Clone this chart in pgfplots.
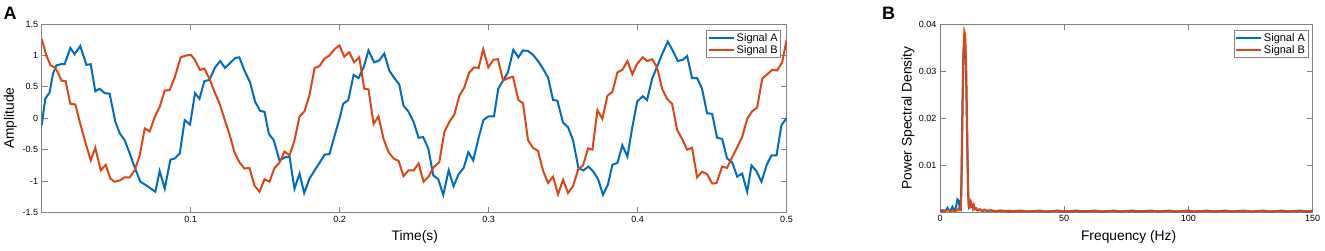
\documentclass[border=0pt]{standalone}
\usepackage{fontspec}
\setmainfont{Liberation Sans}
\usepackage{pgfplots}
\usepackage{pgfplotstable}
\pgfplotsset{compat=1.18}
\definecolor{mblue}{RGB}{0,108,190}
\definecolor{mred}{RGB}{218,70,22}
\definecolor{axgray}{RGB}{128,128,128}

\pgfplotstableread{
t v
0.0000 -0.11
0.0024 0.31
0.0053 0.41
0.0076 0.71
0.0098 0.84
0.0127 0.86
0.0154 0.86
0.0192 1.12
0.0221 1.02
0.0259 1.15
0.0300 0.85
0.0329 0.86
0.0360 0.43
0.0389 0.47
0.0423 0.40
0.0456 0.39
0.0495 -0.06
0.0524 -0.24
0.0557 -0.35
0.0591 -0.56
0.0624 -0.78
0.0662 -1.01
0.0703 -1.07
0.0763 -1.17
0.0792 -0.84
0.0826 -1.12
0.0864 -0.66
0.0893 -0.64
0.0927 -0.56
0.0960 -0.03
0.0996 -0.10
0.1029 0.40
0.1059 0.31
0.1092 0.59
0.1126 0.61
0.1164 0.81
0.1198 0.91
0.1231 0.80
0.1265 0.88
0.1300 0.96
0.1327 0.97
0.1361 0.76
0.1399 0.57
0.1433 0.26
0.1466 0.12
0.1496 0.10
0.1525 -0.25
0.1558 -0.35
0.1596 -0.67
0.1635 -0.62
0.1664 -0.62
0.1697 -1.12
0.1731 -0.88
0.1762 -1.19
0.1798 -0.96
0.1832 -0.83
0.1865 -0.71
0.1899 -0.58
0.1932 -0.57
0.1966 -0.28
0.2000 0.00
0.2024 0.23
0.2058 0.29
0.2094 0.69
0.2127 0.64
0.2161 0.81
0.2194 1.08
0.2232 0.89
0.2266 0.92
0.2300 1.03
0.2333 0.76
0.2367 0.64
0.2400 0.54
0.2429 0.20
0.2461 0.11
0.2497 -0.06
0.2530 -0.31
0.2561 -0.30
0.2595 -0.48
0.2629 -0.91
0.2662 -0.97
0.2696 -1.22
0.2732 -0.83
0.2765 -1.08
0.2799 -0.89
0.2833 -0.79
0.2864 -0.54
0.2897 -0.67
0.2931 -0.33
0.2965 -0.03
0.2999 0.03
0.3036 0.03
0.3065 0.47
0.3097 0.60
0.3130 0.73
0.3166 1.09
0.3200 0.97
0.3231 1.08
0.3265 1.07
0.3298 1.01
0.3332 0.91
0.3365 0.79
0.3399 0.65
0.3433 0.29
0.3462 0.28
0.3500 -0.07
0.3533 -0.14
0.3567 -0.35
0.3603 -0.79
0.3636 -0.83
0.3670 -0.77
0.3704 -0.85
0.3737 -0.98
0.3768 -1.22
0.3802 -1.05
0.3831 -0.74
0.3865 -0.71
0.3898 -0.43
0.3932 -0.61
0.3965 -0.14
0.3998 0.27
0.4035 0.35
0.4064 0.29
0.4098 0.63
0.4131 0.82
0.4165 1.02
0.4203 1.22
0.4236 1.08
0.4270 0.91
0.4304 0.93
0.4333 0.99
0.4366 0.64
0.4400 0.64
0.4433 0.47
0.4467 0.08
0.4501 0.07
0.4534 -0.31
0.4568 -0.33
0.4601 -0.64
0.4635 -0.70
0.4669 -0.93
0.4702 -0.88
0.4736 -1.17
0.4765 -0.75
0.4798 -0.84
0.4832 -1.01
0.4866 -0.75
0.4899 -0.59
0.4933 -0.59
0.4966 -0.11
0.5000 0.00
}\sigA

\pgfplotstableread{
t v
0.0000 1.26
0.0031 1.00
0.0060 0.84
0.0087 0.81
0.0109 0.73
0.0132 0.60
0.0161 0.59
0.0192 0.23
0.0226 0.22
0.0259 -0.09
0.0293 -0.38
0.0329 -0.67
0.0360 -0.47
0.0396 -0.83
0.0430 -0.74
0.0461 -0.96
0.0490 -1.01
0.0524 -0.99
0.0557 -0.94
0.0591 -0.94
0.0624 -0.83
0.0658 -0.59
0.0692 -0.16
0.0725 -0.21
0.0759 0.02
0.0792 0.18
0.0826 0.44
0.0859 0.45
0.0893 0.65
0.0933 0.97
0.0971 1.00
0.1001 1.01
0.1025 0.94
0.1063 0.77
0.1092 0.79
0.1126 0.63
0.1160 0.42
0.1193 0.24
0.1227 -0.01
0.1260 -0.25
0.1294 -0.54
0.1327 -0.70
0.1361 -0.80
0.1395 -0.79
0.1428 -1.07
0.1462 -1.17
0.1496 -0.97
0.1529 -1.01
0.1563 -0.79
0.1596 -0.71
0.1630 -0.53
0.1664 -0.59
0.1697 -0.35
0.1731 0.03
0.1764 0.11
0.1798 0.37
0.1832 0.80
0.1865 0.83
0.1899 0.95
0.1932 1.00
0.1966 1.10
0.1999 1.16
0.2031 0.98
0.2064 1.05
0.2098 0.89
0.2132 0.97
0.2165 0.47
0.2194 0.46
0.2228 -0.09
0.2261 0.03
0.2295 -0.33
0.2329 -0.54
0.2362 -0.64
0.2396 -0.68
0.2429 -0.92
0.2463 -0.83
0.2497 -0.83
0.2530 -0.72
0.2564 -1.01
0.2597 -0.93
0.2631 -0.78
0.2669 -0.70
0.2703 -0.22
0.2736 -0.06
0.2770 0.06
0.2804 0.36
0.2837 0.49
0.2870 0.73
0.2904 0.81
0.2933 0.80
0.2964 1.10
0.2998 0.81
0.3032 0.93
0.3063 0.94
0.3097 0.60
0.3132 0.64
0.3164 0.66
0.3200 0.29
0.3231 0.24
0.3265 -0.35
0.3298 -0.47
0.3332 -0.52
0.3365 -0.83
0.3399 -1.03
0.3433 -0.93
0.3466 -1.21
0.3500 -0.98
0.3533 -1.19
0.3567 -1.08
0.3601 -0.82
0.3634 -0.75
0.3668 -0.48
0.3697 -0.50
0.3731 0.13
0.3764 -0.01
0.3798 0.36
0.3831 0.42
0.3865 0.73
0.3898 0.77
0.3932 0.91
0.3965 0.70
0.3998 0.87
0.4035 0.97
0.4064 0.91
0.4098 0.94
0.4131 0.81
0.4165 0.47
0.4198 0.31
0.4232 0.23
0.4265 -0.18
0.4299 -0.33
0.4333 -0.50
0.4366 -0.47
0.4400 -0.94
0.4433 -0.85
0.4467 -0.89
0.4501 -1.04
0.4530 -1.03
0.4568 -0.77
0.4601 -0.79
0.4635 -0.62
0.4669 -0.46
0.4702 -0.30
0.4736 -0.01
0.4769 0.11
0.4803 0.17
0.4837 0.63
0.4870 0.70
0.4904 0.77
0.4937 0.76
0.4971 0.89
0.5000 1.24
}\sigB

\pgfplotstableread{
f p
0 0.0002
0.5 0.0003
1 0.0004
1.5 0.0002
2 0.0003
2.5 0.0005
3 0.0009
3.5 0.0004
4 0.0003
4.5 0.0006
5 0.0011
5.5 0.0005
6 0.0004
6.5 0.0012
7 0.0027
7.5 0.0024
8 0.0008
8.3 0.0006
8.6 0.006
9.0 0.022
9.4 0.034
9.8 0.0362
10.1 0.0356
10.5 0.029
10.9 0.016
11.3 0.004
11.6 0.0010
12 0.0013
12.4 0.0020
12.8 0.0012
13.2 0.0014
13.6 0.0006
14.2 0.0007
15 0.0004
16 0.0005
17 0.0002
18 0.0004
19 0.0002
20 0.0003
22.5 0.0002
25 0.0003
27.5 0.0001
30 0.0002
32.5 0.0003
35 0.0001
37.5 0.0002
40 0.0003
42.5 0.0001
45 0.0002
47.5 0.0003
50 0.0001
52.5 0.0002
55 0.0003
57.5 0.0001
60 0.0002
62.5 0.0003
65 0.0001
67.5 0.0002
70 0.0003
72.5 0.0001
75 0.0002
77.5 0.0003
80 0.0001
82.5 0.0002
85 0.0003
87.5 0.0001
90 0.0002
92.5 0.0003
95 0.0001
97.5 0.0002
100 0.0003
102.5 0.0001
105 0.0002
107.5 0.0003
110 0.0001
112.5 0.0002
115 0.0003
117.5 0.0001
120 0.0002
122.5 0.0003
125 0.0001
127.5 0.0002
130 0.0003
132.5 0.0001
135 0.0002
137.5 0.0003
140 0.0001
142.5 0.0002
145 0.0003
147.5 0.0001
150 0.0002
}\psdA

\pgfplotstableread{
f p
0 0.0001
1 0.0001
2 0.0002
3 0.0004
4 0.0002
5 0.0003
6 0.0002
7 0.0004
7.5 0.0008
8 0.0004
8.3 0.0004
8.6 0.004
9.0 0.019
9.4 0.033
9.8 0.0384
10.1 0.0378
10.5 0.032
10.9 0.019
11.3 0.005
11.6 0.0012
12 0.0010
12.4 0.0022
12.8 0.0017
13.2 0.0008
13.6 0.0015
14 0.0006
14.6 0.0008
15.3 0.0003
16 0.0006
17 0.0002
18 0.0005
19 0.0002
20.5 0.0004
22 0.0002
24 0.0003
26 0.0001
28 0.0003
30 0.0001
33 0.0002
36 0.0001
39 0.0002
42 0.0001
45 0.0002
48 0.0001
51 0.0002
54 0.0001
57 0.0002
60 0.0001
63 0.0002
66 0.0001
69 0.0002
72 0.0001
75 0.0002
78 0.0001
81 0.0002
84 0.0001
87 0.0002
90 0.0001
93 0.0002
96 0.0001
99 0.0002
102 0.0001
105 0.0002
108 0.0001
111 0.0002
114 0.0001
117 0.0002
120 0.0001
123 0.0002
126 0.0001
129 0.0002
132 0.0001
135 0.0002
138 0.0001
141 0.0002
144 0.0001
147 0.0002
150 0.0001
}\psdB

\pgfplotsset{
  mstyle/.style={
    scale only axis,
    axis line style={axgray, line width=0.8pt},
    every tick/.style={axgray, line width=0.8pt},
    major tick length=6pt,
    tick align=inside,
    scaled x ticks=false, scaled y ticks=false,
    ticklabel style={font=\fontsize{9}{10}\selectfont, text=black},
    label style={font=\fontsize{13.8}{15}\selectfont, text=black},
    legend style={font=\fontsize{11}{12}\selectfont, draw=axgray, line width=0.6pt,
      inner sep=1pt, row sep=-1.5pt, cells={anchor=west}},
    legend image code/.code={\draw[#1] (0pt,0pt) -- (25pt,0pt);},
  }
}

\begin{document}
\begin{tikzpicture}
\useasboundingbox (0,0) rectangle (1325pt,250pt);

\begin{axis}[mstyle,
  at={(41.7pt,37.5pt)}, anchor=south west,
  width=744.8pt, height=188.5pt,
  xmin=0, xmax=0.5, ymin=-1.5, ymax=1.5,
  xtick={0.1,0.2,0.3,0.4,0.5},
  xticklabels={0.1,0.2,0.3,0.4,0.5},
  ytick={-1.5,-1,-0.5,0,0.5,1,1.5},
  yticklabels={-1.5,-1,-0.5,0,0.5,1,1.5},
  xlabel={Time(s)}, ylabel={Amplitude},
  xlabel style={at={(axis description cs:0.501,-0.13)}, anchor=center},
  ylabel style={at={(axis description cs:-0.042,0.5)}, anchor=center},
  legend style={at={(axis description cs:0.9926,0.968)}, anchor=north east},
]
\addplot[mblue, line width=2pt] table[x=t, y=v] {\sigA};
\addlegendentry{Signal A}
\addplot[mred, line width=2pt] table[x=t, y=v] {\sigB};
\addlegendentry{Signal B}
\end{axis}

\begin{axis}[mstyle,
  at={(940pt,38pt)}, anchor=south west,
  width=372.7pt, height=188pt,
  xmin=0, xmax=150, ymin=0, ymax=0.04,
  xtick={0,50,100,150},
  xticklabels={0,50,100,150},
  ytick={0.01,0.02,0.03,0.04},
  yticklabels={0.01,0.02,0.03,0.04},
  xlabel={Frequency (Hz)}, ylabel={Power Spectral Density},
  xlabel style={at={(axis description cs:0.506,-0.135)}, anchor=center},
  ylabel style={at={(axis description cs:-0.086,0.5)}, anchor=center},
  legend style={at={(axis description cs:0.988,0.968)}, anchor=north east},
]
\addplot[mblue, line width=2pt] table[x=f, y=p] {\psdA};
\addlegendentry{Signal A}
\addplot[mred, line width=2pt] table[x=f, y=p] {\psdB};
\addlegendentry{Signal B}
\end{axis}

\node[font=\bfseries\fontsize{18}{18}\selectfont, inner sep=0pt] at (10pt,236.5pt) {A};
\node[font=\bfseries\fontsize{18}{18}\selectfont, inner sep=0pt] at (888.5pt,237pt) {B};
\end{tikzpicture}
\end{document}
